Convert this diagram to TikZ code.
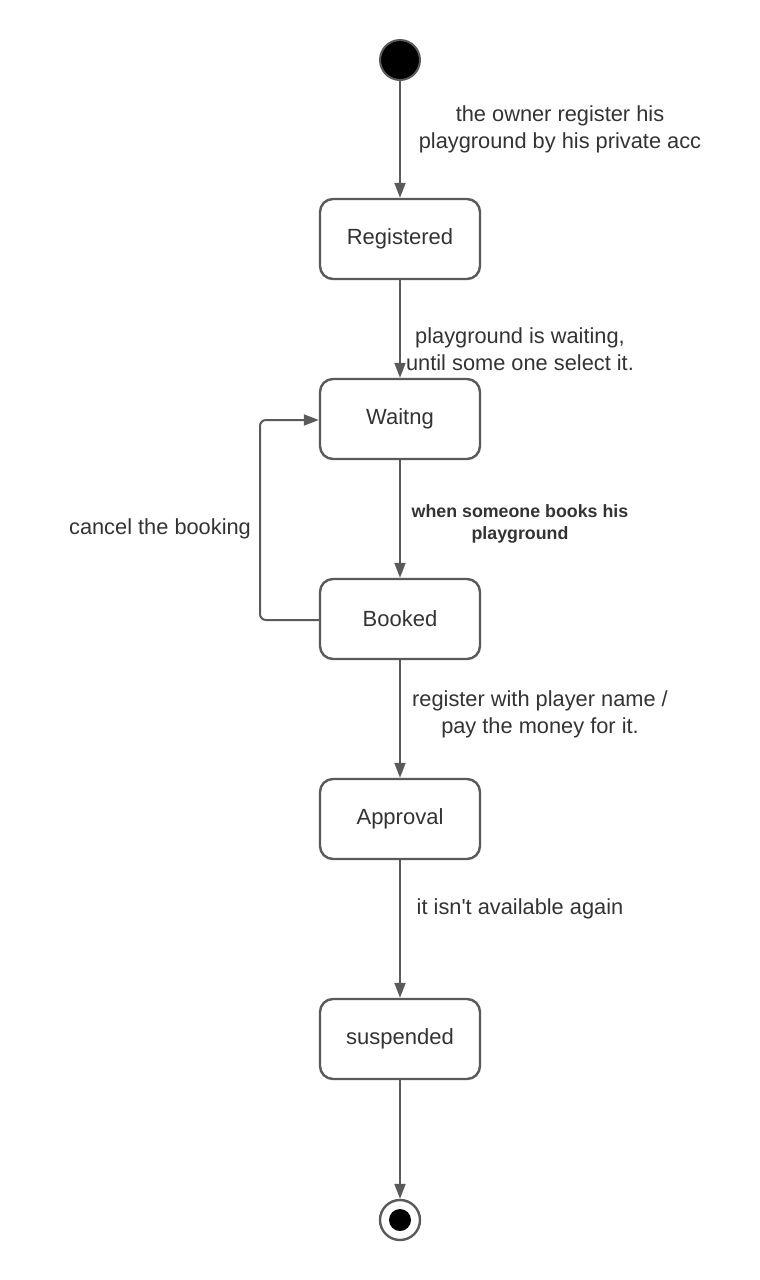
\documentclass[tikz,border=0pt]{standalone}
\usepackage{fontspec}
\setmainfont{Liberation Sans}
\usetikzlibrary{arrows.meta}
\definecolor{lc}{HTML}{5A5A5A}
\definecolor{tc}{HTML}{333333}
\tikzset{
  state/.style={draw=lc, line width=2.4pt, rounded corners=13pt, minimum width=160pt, minimum height=80pt, inner sep=0pt, text=tc, font=\fontsize{22pt}{26pt}\selectfont},
  conn/.style={draw=lc, line width=2pt, -{Triangle[length=15pt,width=11pt]}},
  lbl/.style={text=tc, align=center, font=\fontsize{21.8pt}{27pt}\selectfont, inner sep=0pt},
  blbl/.style={text=tc, align=center, font=\fontsize{17.8pt}{22pt}\selectfont\bfseries, inner sep=0pt}
}
\begin{document}
\begin{tikzpicture}[x=1pt,y=-1pt]
\useasboundingbox (0,0) rectangle (760,1280);
\node[circle, fill=black, draw=lc, line width=2pt, minimum size=40pt, inner sep=0pt] (start) at (400,60) {};
\node[state] (reg) at (400,239) {Registered};
\node[state, minimum height=80pt] (wait) at (400,419) {Waitng};
\node[state] (book) at (400,619) {Booked};
\node[state] (appr) at (400,819) {Approval};
\node[state] (susp) at (400,1039) {suspended};
\node[circle, draw=lc, line width=2.4pt, fill=white, minimum size=40pt, inner sep=0pt] (end) at (400,1220) {};
\node[circle, fill=black, minimum size=22pt, inner sep=0pt] (endin) at (end.center) {};
\coordinate (lb) at (260,620);
\coordinate (lt) at (260,420);
\draw[conn] (start) -- (reg);
\draw[conn] (reg) -- (wait);
\draw[conn] (wait) -- (book);
\draw[conn] (book) -- (appr);
\draw[conn] (appr) -- (susp);
\draw[conn] (susp) -- (end);
\draw[conn, rounded corners=6pt] (book.west |- lb) -- (lb) -- (lt) -- (wait.west |- lt);
\node[lbl] (l1) at (560,129) {the owner register his\\playground by his private acc};
\node[lbl] (l2) at (520,349) {playground is waiting,\\until some one select it.};
\node[blbl] (l3) at (520,524) {when someone books his\\playground};
\node[lbl] (l4) at (160,529) {cancel the booking};
\node[lbl] (l5) at (540,714) {register with player name /\\pay the money for it.};
\node[lbl] (l6) at (520,909) {it isn\textquotesingle t available again};
\end{tikzpicture}
\end{document}
